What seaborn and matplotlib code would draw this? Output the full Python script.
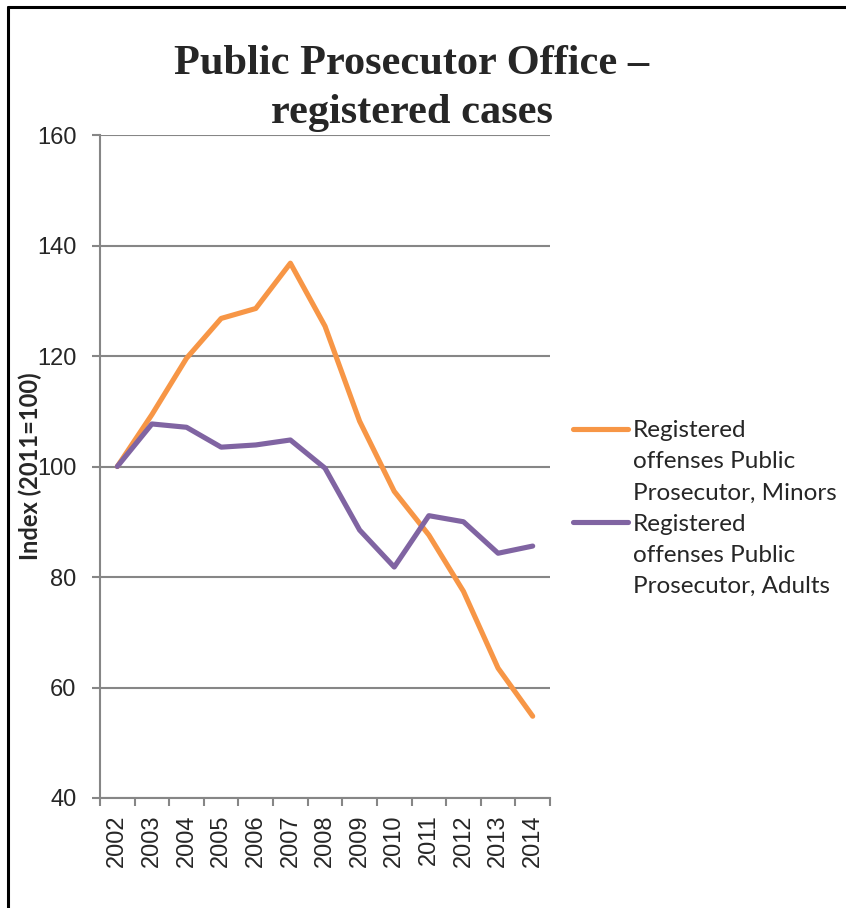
import numpy as np
import pandas as pd
import matplotlib
matplotlib.use("Agg")
import matplotlib.pyplot as plt
import seaborn as sns
from matplotlib.lines import Line2D
from matplotlib.ticker import FixedLocator, NullFormatter, FixedFormatter

# ---- data ----
years = [2002, 2003, 2004, 2005, 2006, 2007, 2008, 2009, 2010, 2011, 2012, 2013, 2014]
minors = [100, 109.4, 119.6, 126.8, 128.6, 136.8, 125.4, 108.2, 95.5, 87.6, 77.4, 63.5, 54.8]
adults = [100, 107.7, 107.1, 103.5, 103.9, 104.8, 99.7, 88.5, 81.8, 91.1, 90.0, 84.3, 85.6]
series_names = ["Registered offenses Public Prosecutor, Minors",
                "Registered offenses Public Prosecutor, Adults"]
legend_rows = [["Registered", "offenses Public", "Prosecutor, Minors"],
               ["Registered", "offenses Public", "Prosecutor, Adults"]]
y_ticks = [40, 60, 80, 100, 120, 140, 160]
title = "Public Prosecutor Office –\nregistered cases"
ylabel = "Index (2011=100)"

df = pd.DataFrame({
    "Year": years + years,
    "Value": minors + adults,
    "Series": [series_names[0]] * len(years) + [series_names[1]] * len(years),
})

sns.set_style("white")
plt.rcParams["font.family"] = ["Liberation Sans", "DejaVu Sans"]

W, H = 846, 908
fig = plt.figure(figsize=(W / 100, H / 100), dpi=100)
ax = fig.add_axes([100 / W, 110 / H, 450 / W, 663 / H])

palette = {series_names[0]: "#F79646", series_names[1]: "#8064A2"}
sns.lineplot(data=df, x="Year", y="Value", hue="Series", palette=palette,
             linewidth=3.7, legend=False, ax=ax, sort=False)
for ln in ax.get_lines():
    ln.set_solid_capstyle("round")

grid_col = "#868686"
ax.set_xlim(years[0] - 0.5, years[-1] + 0.5)
ax.set_ylim(y_ticks[0], y_ticks[-1])

# x: ticks between categories, labels at centres
bounds = np.arange(years[0] - 0.5, years[-1] + 1.0, 1.0)
ax.xaxis.set_major_locator(FixedLocator(bounds))
ax.xaxis.set_major_formatter(NullFormatter())
ax.xaxis.set_minor_locator(FixedLocator(years))
ax.xaxis.set_minor_formatter(FixedFormatter([str(y) for y in years]))
ax.tick_params(axis="x", which="major", direction="out", length=6, width=1.5,
               color=grid_col, bottom=True)
ax.tick_params(axis="x", which="minor", length=0, labelsize=17, labelrotation=90,
               pad=12, bottom=True)

ax.set_yticks(y_ticks)
ax.tick_params(axis="y", which="major", direction="out", length=6, width=1.5,
               color=grid_col, labelsize=17, pad=11, left=True)

ax.yaxis.grid(True, color=grid_col, linewidth=1.5)
ax.xaxis.grid(False)
ax.set_axisbelow(True)
for s in ["top", "right"]:
    ax.spines[s].set_visible(False)
for s in ["left", "bottom"]:
    ax.spines[s].set_color(grid_col)
    ax.spines[s].set_linewidth(1.5)

ax.set_xlabel("")
ax.set_ylabel(ylabel, fontsize=17, fontweight="bold", family=["Lato", "DejaVu Sans"])
ax.yaxis.set_label_coords(-0.128, 0.5)

fig.text(412 / W, 1 - 45 / H, title, ha="center", va="top", fontsize=30.5,
         fontweight="bold", family=["Liberation Serif", "DejaVu Serif"], linespacing=1.38)

# legend
lines = ax.get_lines()
blank = Line2D([], [], color="none")
handles = [lines[0], blank, blank, lines[1], blank, blank]
labels = legend_rows[0] + legend_rows[1]
leg = ax.legend(handles=handles, labels=labels, loc="upper left",
                bbox_to_anchor=(573 / W, 1 - 420 / H), bbox_transform=fig.transFigure,
                frameon=False, prop={"family": "Lato", "size": 17.5},
                handlelength=2.27, handletextpad=0.2, labelspacing=0.42,
                borderpad=0, borderaxespad=0)
for ln in leg.get_lines():
    ln.set_solid_capstyle("round")
    ln.set_linewidth(3.7)

# page frame (left and top edges)
fig.add_artist(Line2D([8 / W, 8 / W], [0, 1 - 7 / H], transform=fig.transFigure,
                      color="black", linewidth=2.2))
fig.add_artist(Line2D([8 / W, 1], [1 - 7 / H, 1 - 7 / H], transform=fig.transFigure,
                      color="black", linewidth=2.2))

fig.savefig("out.png", dpi=100)
